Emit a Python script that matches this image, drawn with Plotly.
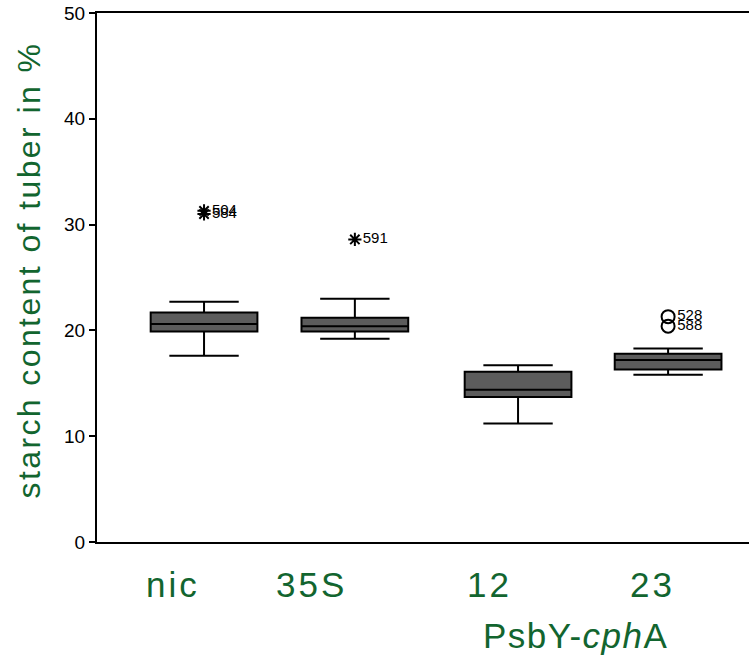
import plotly.graph_objects as go

# ---- data ----
groups = ["nic", "35S", "12", "23"]
lower_whisker = [17.6, 19.2, 11.2, 15.8]
q1 = [19.9, 19.9, 13.7, 16.3]
median = [20.6, 20.4, 14.4, 17.2]
q3 = [21.7, 21.2, 16.1, 17.8]
upper_whisker = [22.7, 23.0, 16.7, 18.3]

extreme_group = ["nic", "nic", "35S"]
extreme_values = [31.3, 31.0, 28.6]
extreme_labels = ["504", "584", "591"]

outlier_group = ["23", "23"]
outlier_values = [21.3, 20.4]
outlier_labels = ["528", "588"]

y_ticks = [0, 10, 20, 30, 40, 50]

# ---- layout helpers ----
positions = {"nic": 0.0, "35S": 0.975, "12": 2.03, "23": 3.0}
label_offset = {"nic": -0.207, "35S": -0.285, "12": -0.19, "23": -0.11}
GREEN = "#12652f"
FONT = "Liberation Sans, Arial, sans-serif"


def spaced(txt, px):
    return f'<span style="letter-spacing:{px}px">{txt}</span>'


fig = go.Figure()
fig.add_trace(go.Box(
    x=[positions[g] for g in groups],
    q1=q1, median=median, q3=q3,
    lowerfence=lower_whisker, upperfence=upper_whisker,
    width=0.69, whiskerwidth=0.65,
    fillcolor="#5c5c5c",
    line=dict(color="black", width=2),
    boxpoints=False,
    showlegend=False,
    hoverinfo="skip",
))

fig.add_trace(go.Scatter(
    x=[positions[g] for g in extreme_group], y=extreme_values,
    mode="markers+text",
    marker=dict(symbol="asterisk-open", size=11, color="black", line=dict(width=2, color="black")),
    text=extreme_labels, textposition="middle right",
    textfont=dict(family=FONT, size=15, color="black"),
    showlegend=False,
))
fig.add_trace(go.Scatter(
    x=[positions[g] for g in outlier_group], y=outlier_values,
    mode="markers+text",
    marker=dict(symbol="circle-open", size=13, color="black", line=dict(width=2, color="black")),
    text=outlier_labels, textposition="middle right",
    textfont=dict(family=FONT, size=15, color="black"),
    showlegend=False,
))

for g in groups:
    fig.add_annotation(
        x=positions[g] + label_offset[g], y=0, xref="x", yref="paper",
        yshift=-64, xshift=1, text=spaced(g, 3), showarrow=False,
        font=dict(family=FONT, size=35, color=GREEN),
    )
fig.add_annotation(
    x=(positions["12"] + positions["23"]) / 2 - 0.035, y=0, xref="x", yref="paper",
    yshift=-115, xshift=-12, text=spaced("PsbY-<i>cph</i>A", 1.5), showarrow=False,
    font=dict(family=FONT, size=35, color=GREEN),
)
fig.add_annotation(
    x=0, y=0.5, xref="paper", yref="paper", xshift=-69, yshift=7,
    text=spaced("starch content of tuber in %", 2.4), textangle=-90, showarrow=False,
    xanchor="center", yanchor="middle",
    font=dict(family=FONT, size=32, color=GREEN),
)

fig.update_layout(
    width=749, height=657,
    margin=dict(l=97, r=0, t=13, b=115),
    paper_bgcolor="white", plot_bgcolor="white",
    font=dict(family=FONT, color="black"),
    xaxis=dict(
        range=[-0.692, 3.523], showticklabels=False, ticks="",
        showgrid=False, zeroline=False, automargin=False,
        showline=True, linecolor="black", linewidth=2, mirror=True,
    ),
    yaxis=dict(
        range=[0, 50], tickvals=y_ticks, ticks="outside", ticklen=6,
        tickwidth=2, tickcolor="black", automargin=False,
        tickfont=dict(family=FONT, size=19, color="black"),
        showgrid=False, zeroline=False,
        showline=True, linecolor="black", linewidth=2,
    ),
)

fig.write_html(
    "out.html",
    config={"displayModeBar": False},
    post_script="document.body.style.margin='0';document.body.style.overflow='hidden';",
)
